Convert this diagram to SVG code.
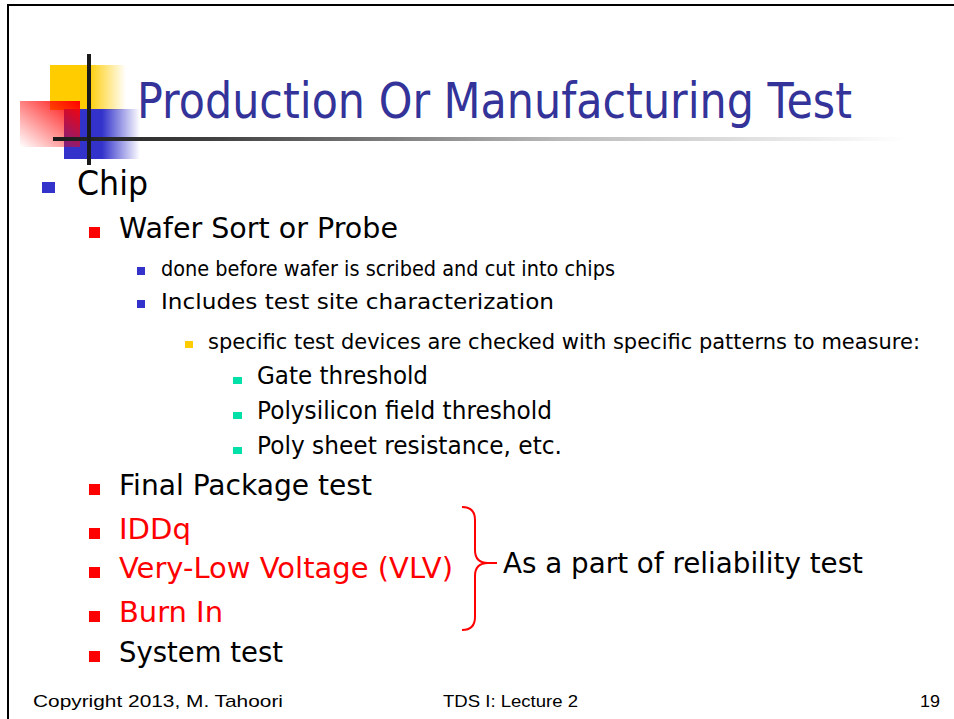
<svg xmlns="http://www.w3.org/2000/svg" width="954" height="719" viewBox="0 0 954 719">
<style>
.t{font-family:"DejaVu Sans","Verdana",sans-serif;fill:#000}
.r{fill:#FF0000}
.ft{font-family:"Liberation Sans",Arial,sans-serif;font-size:17px;fill:#000}
</style>
<defs>
<linearGradient id="gy" x1="0" y1="0" x2="1" y2="0"><stop offset="0" stop-color="#FFCC00"/><stop offset="0.5" stop-color="#FFCC00"/><stop offset="1" stop-color="#FFCC00" stop-opacity="0"/></linearGradient>
<linearGradient id="gb" x1="0" y1="0" x2="1" y2="0"><stop offset="0" stop-color="#3333CC"/><stop offset="0.5" stop-color="#3333CC"/><stop offset="1" stop-color="#3333CC" stop-opacity="0"/></linearGradient>
<linearGradient id="gr" x1="1" y1="0" x2="0" y2="1"><stop offset="0" stop-color="#FF0000"/><stop offset="1" stop-color="#FF0000" stop-opacity="0"/></linearGradient>
<linearGradient id="gl" gradientUnits="userSpaceOnUse" x1="53" y1="0" x2="905" y2="0"><stop offset="0" stop-color="#1a1a1a"/><stop offset="0.2" stop-color="#444"/><stop offset="0.6" stop-color="#bbb"/><stop offset="1" stop-color="#fff"/></linearGradient>
</defs>
<rect x="0" y="0" width="954" height="719" fill="#fff"/>
<g id="frame" fill="none" stroke="#000" stroke-width="2">
<path d="M8,719 V5 H954"/>
</g>
<g id="logo">
<rect x="50" y="65" width="76" height="45" fill="url(#gy)"/>
<rect x="64" y="109" width="76" height="50" fill="url(#gb)"/>
<rect x="20" y="101" width="60" height="46" fill="url(#gr)"/>
<rect x="53" y="137" width="852" height="4" fill="url(#gl)"/>
<rect x="87" y="54" width="4" height="111" fill="#1a1a1a"/>
</g>
<g id="title">
<text x="137" y="118" font-family="DejaVu Sans, Verdana, sans-serif" font-size="49" fill="#333399" textLength="715" lengthAdjust="spacingAndGlyphs">Production Or Manufacturing Test</text>
</g>
<g id="bullets">
<rect x="42" y="182" width="13" height="11" fill="#3333CC"/>
<text class="t" x="77" y="195" font-size="34" textLength="71" lengthAdjust="spacingAndGlyphs">Chip</text>
<rect x="89" y="227" width="11" height="11" fill="#FF0000"/>
<text class="t" x="119" y="238" font-size="29" textLength="279" lengthAdjust="spacingAndGlyphs">Wafer Sort or Probe</text>
<rect x="137" y="267" width="8" height="8" fill="#3333CC"/>
<text class="t" x="161" y="276" font-size="22" textLength="454" lengthAdjust="spacingAndGlyphs">done before wafer is scribed and cut into chips</text>
<rect x="137" y="300" width="8" height="8" fill="#3333CC"/>
<text class="t" x="161" y="309" font-size="22" textLength="393" lengthAdjust="spacingAndGlyphs">Includes test site characterization</text>
<rect x="185" y="341" width="8" height="7" fill="#FFCC00"/>
<text class="t" x="208" y="349" font-size="21" textLength="712" lengthAdjust="spacingAndGlyphs">specific test devices are checked with specific patterns to measure:</text>
<rect x="233" y="377" width="9" height="7" fill="#00E0A8"/>
<text class="t" x="257" y="384" font-size="24" textLength="171" lengthAdjust="spacingAndGlyphs">Gate threshold</text>
<rect x="233" y="412" width="9" height="7" fill="#00E0A8"/>
<text class="t" x="257" y="419" font-size="24" textLength="295" lengthAdjust="spacingAndGlyphs">Polysilicon field threshold</text>
<rect x="233" y="447" width="9" height="7" fill="#00E0A8"/>
<text class="t" x="257" y="454" font-size="24" textLength="305" lengthAdjust="spacingAndGlyphs">Poly sheet resistance, etc.</text>
<rect x="89" y="484" width="11" height="11" fill="#FF0000"/>
<text class="t" x="119" y="495" font-size="29" textLength="253" lengthAdjust="spacingAndGlyphs">Final Package test</text>
<rect x="89" y="528" width="11" height="11" fill="#FF0000"/>
<text class="t r" x="119" y="539" font-size="29" textLength="72" lengthAdjust="spacingAndGlyphs">IDDq</text>
<rect x="89" y="567" width="11" height="11" fill="#FF0000"/>
<text class="t r" x="119" y="578" font-size="29" textLength="334" lengthAdjust="spacingAndGlyphs">Very-Low Voltage (VLV)</text>
<rect x="89" y="611" width="11" height="11" fill="#FF0000"/>
<text class="t r" x="119" y="622" font-size="29" textLength="104" lengthAdjust="spacingAndGlyphs">Burn In</text>
<rect x="89" y="651" width="11" height="11" fill="#FF0000"/>
<text class="t" x="119" y="662" font-size="29" textLength="164" lengthAdjust="spacingAndGlyphs">System test</text>
</g>
<g id="brace">
<path d="M462,507 Q475,507 475,520 V550 Q475,563 488,563 H497 M488,563 Q475,563 475,576 V617 Q475,630 462,630" fill="none" stroke="#FF0000" stroke-width="2"/>
<text class="t" x="503" y="573" font-size="29" textLength="360" lengthAdjust="spacingAndGlyphs">As a part of reliability test</text>
</g>
<g id="footer">
<text class="ft" x="33" y="707" textLength="250" lengthAdjust="spacingAndGlyphs">Copyright 2013, M. Tahoori</text>
<text class="ft" x="443" y="707" textLength="135" lengthAdjust="spacingAndGlyphs">TDS I: Lecture 2</text>
<text class="ft" x="920" y="707" textLength="20" lengthAdjust="spacingAndGlyphs">19</text>
</g>
</svg>
